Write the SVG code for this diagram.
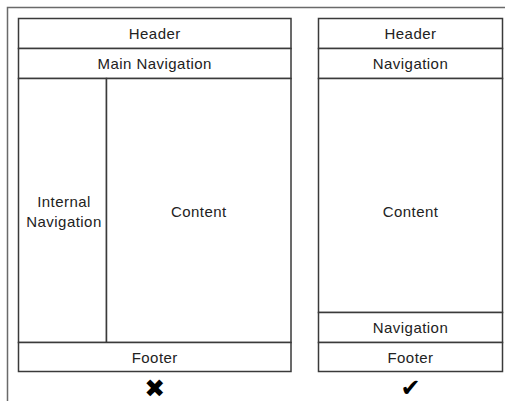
<svg xmlns="http://www.w3.org/2000/svg" width="505" height="403" viewBox="0 0 505 403">
<style>
.box{fill:#fff;stroke:#3a3a3a;stroke-width:1.5}
.frame{fill:none;stroke:#6a6a6a;stroke-width:1.5}
.t{font-family:"Liberation Sans",Arial,sans-serif;font-size:15px;letter-spacing:0.45px;fill:#222;text-anchor:middle;dominant-baseline:central}
.sym{font-family:"DejaVu Sans",sans-serif;fill:#000;text-anchor:middle;dominant-baseline:central}
</style>
<rect width="505" height="403" fill="#fff"/>
<path class="frame" d="M7.5,401 V7.5 H505"/>
<g id="left-layout">
<g id="l-header"><rect class="box" x="18.5" y="18.5" width="272.5" height="30"/><text class="t" x="154.75" y="33.5">Header</text></g>
<g id="l-mainnav"><rect class="box" x="18.5" y="48.5" width="272.5" height="30"/><text class="t" x="154.75" y="63.5">Main Navigation</text></g>
<g id="l-internalnav"><rect class="box" x="18.5" y="78.5" width="88" height="264"/><text class="t" x="64" y="201.5">Internal</text><text class="t" x="64" y="221.5">Navigation</text></g>
<g id="l-content"><rect class="box" x="106.5" y="78.5" width="184.5" height="264"/><text class="t" x="198.75" y="211.5">Content</text></g>
<g id="l-footer"><rect class="box" x="18.5" y="342.5" width="272.5" height="29"/><text class="t" x="154.75" y="357.5">Footer</text></g>
<text class="sym" x="154.75" y="388" font-size="25" font-weight="bold">✖</text>
</g>
<g id="right-layout">
<g id="r-header"><rect class="box" x="318.5" y="18.5" width="184" height="30"/><text class="t" x="410.5" y="33.5">Header</text></g>
<g id="r-nav"><rect class="box" x="318.5" y="48.5" width="184" height="30"/><text class="t" x="410.5" y="63.5">Navigation</text></g>
<g id="r-content"><rect class="box" x="318.5" y="78.5" width="184" height="234"/><text class="t" x="410.5" y="211.5">Content</text></g>
<g id="r-nav2"><rect class="box" x="318.5" y="312.5" width="184" height="30"/><text class="t" x="410.5" y="327.5">Navigation</text></g>
<g id="r-footer"><rect class="box" x="318.5" y="342.5" width="184" height="29"/><text class="t" x="410.5" y="357.5">Footer</text></g>
<text class="sym" x="410.5" y="388" font-size="24">✔</text>
</g>
<g id="connectors"/>
</svg>
